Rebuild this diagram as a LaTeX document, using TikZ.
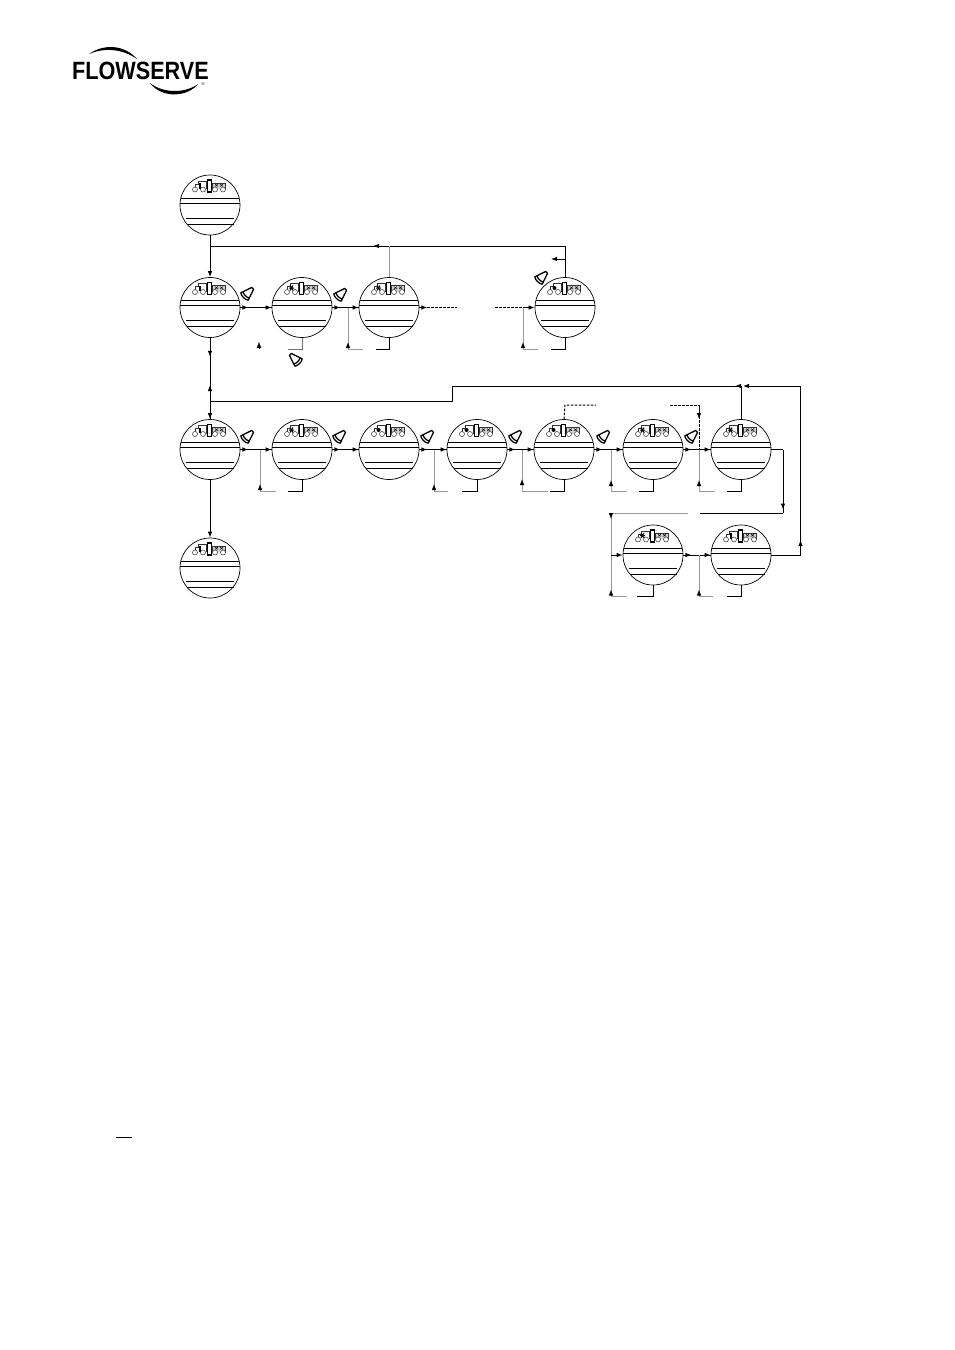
\documentclass[tikz,border=0pt]{standalone}
\usepackage{graphicx}
\usepackage{fontspec}
\setmainfont{Liberation Sans}
\usetikzlibrary{arrows.meta,calc}
\tikzset{
  x=1pt,y=-1pt,
  dial/.style={circle,draw=black,line width=.7pt,minimum size=60pt,inner sep=0pt,fill=white},
  bl/.style={draw=black,line width=1pt},
  gl/.style={draw=black!40,line width=.9pt},
  dl/.style={draw=black,line width=1pt,dash pattern=on 2.5pt off 1.5pt},
  tip/.style={-{Latex[length=6pt,width=4.6pt,black]}},
  btnshape/.style={draw=black,line width=1.3pt,fill=white,line join=round},
  chord/.style={draw=black,line width=1pt},
  icon/.style={draw=black!80,line width=.5pt},
}
% #1 style, #2 from, #3 distance of the arrow tip, #4 to
\newcommand\tipline[4][bl]{%
  \draw[#1] (#2) -- (#4);
  \draw[#1,tip] (#2) -- ($(#2)!#3!(#4)$);
}
% #1 name, #2 x, #3 y, #4 mark type
\newcommand\dialat[4]{%
  \node[dial] (#1) at (#2,#3) {};
  \begin{scope}[shift={(#2,#3)}]
    \draw[chord] (-29,-7) -- (29,-7);
    \draw[chord] (-30,-2) -- (30,-2);
    \draw[chord] (-24,13) -- (24,13);
    \draw[chord] (-23.5,19) -- (23.5,19);
    \draw[icon] (-15,-16) -- (-15,-21) -- (-12,-21) -- (-12,-24) -- (-4,-24) -- (-4,-16);
    \draw[icon,fill=black!18] (2,-16) -- (2,-22) -- (15,-22) -- (15,-16);
    \foreach \cx in {-15,-7,5,13} \draw[icon,fill=white] (\cx,-15.5) circle (2.5);
    \draw[black,line width=1.1pt,fill=white] (-2.5,-25) rectangle (1.5,-13);
    \draw[black,line width=.5pt] (5,-21) -- (8,-18.5) (8,-21) -- (5,-18.5) (10,-21) -- (13,-18.5) (13,-21) -- (10,-18.5);
    \ifcase#4
      \fill[black] (-11.5,-22) rectangle (-9,-16.5);
    \or
      \draw[black,line width=1pt] (-13,-19.5) -- (-8,-19.5) (-12,-22) -- (-9,-17) (-9,-22) -- (-12,-17);
    \or
      \fill[black] (-10.5,-19.5) circle (2);
    \fi
  \end{scope}
}
% #1 x, #2 y, #3 local x vector, #4 local y vector
\newcommand\btnat[4]{%
  \begin{scope}[shift={(#1,#2)},x={#3},y={#4}]
    \draw[btnshape] (-1.3,-8) .. controls (-.5,-8.8) and (.5,-8.8) .. (1.3,-8)
      -- (5.2,3.5) .. controls (3.5,5.5) and (-3.5,5.5) .. (-5.2,3.5) -- cycle;
    \draw[black,line width=1.3pt] (-4.5,1.2) .. controls (-2.5,2.8) and (2.5,2.8) .. (4.5,1.2);
  \end{scope}
}
% feedback: #1 dial, #2 junction x, #3 y, #4 grey end x, #5 black end x, #6 tip distance
\newcommand\fback[6]{%
  \coordinate (#1j) at (#2,#3);
  \coordinate (#1g) at (#4,#3);
  \coordinate (#1k) at (#5,#3);
  \coordinate (#1m) at (#1j |- #1.center);
  \draw[gl] (#1g) -- (#1j);
  \tipline[gl]{#1j}{#6}{#1m}
  \draw[bl] (#1.south) |- (#1k);
}
\begin{document}
\begin{tikzpicture}
\useasboundingbox (0,0) rectangle (954,1350);
\fill[white] (0,0) rectangle (954,1350);

% logo
\node[inner sep=0pt,anchor=center,font=\fontsize{25}{26}\selectfont\bfseries] (logo) at (140.5,71) {\scalebox{.865}[1]{FLOWSERVE}};
\coordinate (arcA) at (89,54);
\coordinate (arcB) at (137,59);
\fill[black] (arcA) .. controls (103,44) and (124,44) .. (arcB) .. controls (122,48.5) and (104,47.5) .. cycle;
\coordinate (arcC) at (150,83);
\coordinate (arcD) at (198,84);
\fill[black] (arcC) .. controls (162,99) and (188,97) .. (arcD) .. controls (186,93) and (164,94) .. cycle;
\node[inner sep=0pt,font=\fontsize{4}{4}\selectfont] (reg) at (203,84) {®};

% dials
\dialat{c1}{210}{205}{0}
\dialat{ra}{210}{307.5}{0}
\dialat{rb}{302}{307.5}{1}
\dialat{rc}{389}{307.5}{1}
\dialat{rd}{565}{307.5}{2}
\dialat{sa}{210}{449.5}{0}
\dialat{sb}{302}{449.5}{1}
\dialat{sc}{389}{449.5}{2}
\dialat{sd}{477}{449.5}{2}
\dialat{se}{564}{449.5}{2}
\dialat{sf}{653}{449.5}{1}
\dialat{sg}{741}{449.5}{1}
\dialat{ta}{210}{568}{0}
\dialat{tb}{653}{555}{1}
\dialat{tc}{741}{555}{0}

% buttons
\foreach \bx/\by in {247/294,340/295,541/278,247/437,339/437,427/437,515/437,603/437,691/437}
  {\btnat{\bx}{\by}{(.707pt,-.707pt)}{(-.707pt,-.707pt)}}
\btnat{296}{360}{(.707pt,.707pt)}{(.707pt,-.707pt)}

% top return loop
\coordinate (topL) at (210,246);
\coordinate (topR) at (565,246);
\coordinate (topM) at (389,246);
\coordinate (sideA) at (565,259);
\coordinate (sideB) at (551,259);
\draw[bl,tip] (c1.south) -- (ra.north);
\tipline{topR}{192pt}{topL}
\draw[bl] (rd.north) -- (topR);
\draw[gl] (rc.north) -- (topM);
\draw[bl,tip] (sideA) -- (sideB);

% row 2
\tipline{ra.east}{8pt}{rb.west}
\draw[bl,tip] (ra.east) -- (rb.west);
\tipline{rb.east}{8pt}{rc.west}
\draw[bl,tip] (rb.east) -- (rc.west);
\coordinate (lbe) at (288,349);
\draw[draw=black!55,line width=.9pt] (rb.south) |- (lbe);
\fback{rc}{348}{349}{363}{376}{7pt}
\coordinate (ta0) at (259,347.5);
\coordinate (ta1) at (259,342);
\draw[black,line width=.1pt,tip] (ta0) -- (ta1);

\coordinate (d1) at (457,307.5);
\coordinate (d2) at (495,307.5);
\coordinate (d3) at (524,307.5);
\draw[dl] (rc.east) -- (d1);
\draw[bl,tip] (rc.east) -- ($(rc.east)+(8,0)$);
\draw[dl] (d2) -- (d3);
\draw[bl,tip] (d3) -- (rd.west);
\fback{rd}{523}{349}{538}{551}{7pt}

% vertical 2 -> 3
\coordinate (up1) at (210,401);
\tipline{ra.south}{19pt}{sa.north}
\draw[bl,tip] (ra.south) -- (sa.north);
\coordinate (up2) at (210,385);
\draw[bl,tip] (up1) -- (up2);
\draw[bl,tip] (sa.south) -- (ta.north);

% long return
\coordinate (l1) at (452,401);
\coordinate (l2) at (452,386);
\coordinate (l3) at (800.5,386);
\coordinate (l4) at (800.5,555);
\coordinate (lup) at (741,386);
\coordinate (tipa) at (735,386);
\coordinate (tipb) at (743,386);
\draw[bl] (up1) -- (l1) -- (l2) -- (lup);
\draw[bl,tip] (lup) -- (tipa);
\draw[bl,tip] (l3) -- (tipb);
\draw[bl] (tc.east) -- (l4);
\tipline{l4}{15pt}{l3}
\draw[bl] (sg.north) -- (lup);

% row 3
\tipline{sa.east}{8pt}{sb.west}
\draw[bl,tip] (sa.east) -- (sb.west);
\tipline{sb.east}{8pt}{sc.west}
\draw[bl,tip] (sb.east) -- (sc.west);
\tipline{sc.east}{8pt}{sd.west}
\draw[bl,tip] (sc.east) -- (sd.west);
\tipline{sd.east}{8pt}{se.west}
\draw[bl,tip] (sd.east) -- (se.west);
\tipline{se.east}{8pt}{sf.west}
\draw[bl,tip] (se.east) -- (sf.west);
\tipline{sf.east}{8pt}{sg.west}
\draw[bl,tip] (sf.east) -- (sg.west);
\fback{sb}{260}{491}{276}{288}{7pt}
\fback{sd}{434}{491}{448}{462}{7pt}
\fback{se}{522}{491}{548}{550}{12pt}
\fback{sf}{611}{491}{627}{639}{11pt}
\fback{sg}{699}{491}{715}{727}{11pt}

% dashed excursions
\coordinate (e1) at (565,405);
\coordinate (e2) at (596,405);
\coordinate (e3) at (670,405);
\coordinate (e4) at (699,405);
\coordinate (e5) at (699,449.5);
\coordinate (e6) at (699,419);
\draw[dl] (se.north) -- (e1) -- (e2);
\draw[dl] (e3) -- (e4) -- (e5);
\draw[bl,tip] (e4) -- (e6);

% down to row 4
\coordinate (f1) at (783,449.5);
\coordinate (f2) at (783,513);
\coordinate (f3) at (700,513);
\coordinate (f4) at (688,513);
\coordinate (f5) at (611,513);
\coordinate (f6) at (611,596.5);
\coordinate (f7) at (611,555);
\coordinate (f8) at (627,596.5);
\coordinate (f9) at (637,596.5);
\draw[bl] (sg.east) -- (f1);
\tipline{f1}{60pt}{f2}
\draw[bl] (f2) -- (f3);
\draw[gl] (f4) -- (f5);
\tipline[gl]{f5}{6pt}{f7}
\tipline[gl]{f6}{7pt}{f7}
\draw[gl] (f6) -- (f8);
\draw[bl,tip] (f7) -- (tb.west);
\draw[bl] (tb.south) |- (f9);

% row 4
\tipline{tb.east}{8pt}{tc.west}
\draw[bl,tip] (tb.east) -- (tc.west);
\fback{tc}{699}{596.5}{713}{727}{7pt}

% page mark
\coordinate (pa) at (116,1137.5);
\coordinate (pb) at (132,1137.5);
\draw[black,line width=1pt] (pa) -- (pb);
\end{tikzpicture}
\end{document}
